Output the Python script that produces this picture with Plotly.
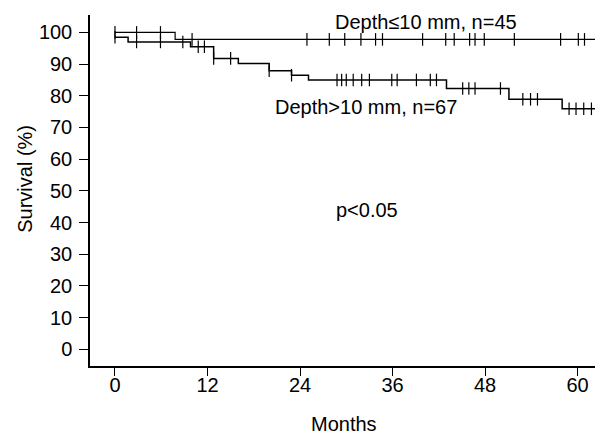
import plotly.graph_objects as go

# Kaplan-Meier step data (months, survival %)
shallow_times = [0, 7.8, 63.3]
shallow_surv = [100, 97.8, 97.8]
shallow_censor = [0, 2.8, 5.9, 10.0, 24.9, 27.8, 29.8, 31.9, 33.8, 34.7, 39.9,
                  42.9, 44.0, 46.0, 46.7, 47.9, 51.8, 57.8, 60.1, 60.9, 62.9]

deep_times = [0, 1.7, 9.8, 12.8, 16.0, 20.0, 22.9, 25.1, 43.0, 51.1, 58.0, 63.3]
deep_surv = [98.5, 97.0, 95.5, 91.8, 90.2, 87.9, 86.5, 85.0, 82.3, 78.9, 75.9, 75.9]
deep_censor = [0, 2.8, 5.9, 8.8, 10.8, 11.6, 12.8, 15.0, 20.0, 22.9, 28.8, 29.4,
               30.0, 30.9, 32.0, 33.0, 35.9, 36.6, 39.1, 40.9, 41.7, 45.1, 45.9,
               46.7, 50.0, 52.9, 53.9, 54.8, 58.9, 59.8, 60.8, 61.8, 62.9]

x_ticks = [0, 12, 24, 36, 48, 60]
y_ticks = [0, 10, 20, 30, 40, 50, 60, 70, 80, 90, 100]

label_shallow = "Depth≤10 mm, n=45"
label_deep = "Depth>10 mm, n=67"
p_text = "p<0.05"
x_title = "Months"
y_title = "Survival (%)"


def step_value(times, surv, t):
    v = surv[0]
    for ti, si in zip(times, surv):
        if ti <= t:
            v = si
    return v


FONT = "Liberation Sans, Arial, Helvetica, sans-serif"
fig = go.Figure()

for times, surv, cens, w in [(shallow_times, shallow_surv, shallow_censor, 1.2),
                             (deep_times, deep_surv, deep_censor, 1.5)]:
    fig.add_trace(go.Scatter(x=times, y=surv, mode="lines", line_shape="hv",
                             line=dict(color="black", width=w),
                             showlegend=False, hoverinfo="skip"))
    fig.add_trace(go.Scatter(x=cens, y=[step_value(times, surv, t) for t in cens],
                             mode="markers",
                             marker=dict(symbol="line-ns", size=9,
                                         line=dict(color="black", width=1.2)),
                             showlegend=False, hoverinfo="skip"))

ann_font = dict(size=20, color="black", family=FONT)
fig.add_annotation(x=40.3, y=103.4, text=label_shallow, showarrow=False, font=ann_font)
fig.add_annotation(x=32.5, y=76.6, text=label_deep, showarrow=False, font=ann_font)
fig.add_annotation(x=32.7, y=44.0, text=p_text, showarrow=False, font=ann_font)
fig.add_annotation(x=0.495, y=-0.165, xref="paper", yref="paper", text=x_title,
                   xanchor="center", yanchor="middle", showarrow=False, font=ann_font)
fig.add_annotation(x=-0.127, y=0.533, xref="paper", yref="paper", text=y_title,
                   xanchor="center", yanchor="middle", textangle=-90,
                   showarrow=False, font=ann_font)

# page body has an 8px default margin, so the figure is 8px smaller
fig.update_layout(
    width=595, height=426, autosize=False,
    margin=dict(l=82, r=0, t=7, b=68),
    paper_bgcolor="white", plot_bgcolor="white",
    font=dict(family=FONT, size=20, color="black"),
    xaxis=dict(range=[-3.24, 63.3], tickvals=x_ticks, ticks="outside", ticklen=8,
               tickwidth=1.3, tickcolor="black", showline=True, linecolor="black",
               linewidth=1.5, showgrid=False, zeroline=False, automargin=False,
               ticklabelstandoff=-8),
    yaxis=dict(range=[-5.3, 105.5], tickvals=y_ticks, ticks="outside", ticklen=9,
               tickwidth=1.3, tickcolor="black", showline=True, linecolor="black",
               linewidth=1.5, showgrid=False, zeroline=False, automargin=False,
               ticklabelstandoff=3),
)

fig.write_html("out.html")
